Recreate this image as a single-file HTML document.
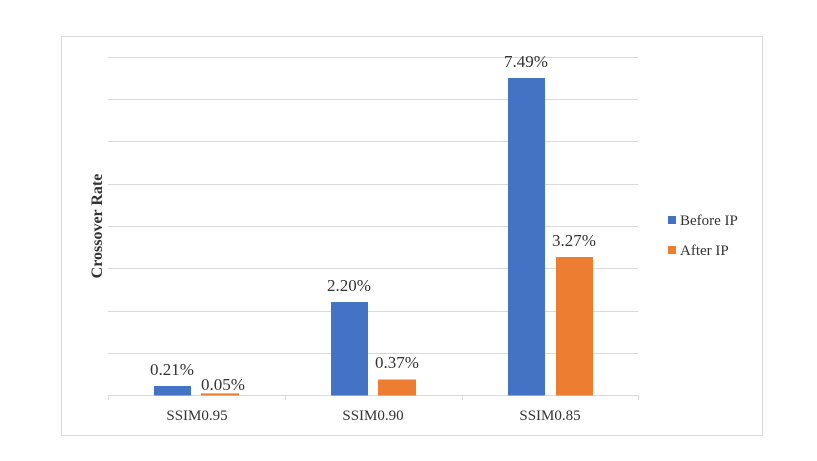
<!DOCTYPE html>
<html><head><style>
body{margin:0;background:#fff;}
svg text{font-family:"Liberation Serif",serif;fill:#333;}
</style></head><body>
<svg width="817" height="456" xmlns="http://www.w3.org/2000/svg">
<rect x="61.5" y="36.5" width="701" height="399" fill="#fff" stroke="#d9d9d9"/>
<g stroke="#d9d9d9" stroke-width="1">
<line x1="108" x2="638" y1="57.5" y2="57.5"/>
<line x1="108" x2="638" y1="99.5" y2="99.5"/>
<line x1="108" x2="638" y1="141.5" y2="141.5"/>
<line x1="108" x2="638" y1="184.5" y2="184.5"/>
<line x1="108" x2="638" y1="226.5" y2="226.5"/>
<line x1="108" x2="638" y1="268.5" y2="268.5"/>
<line x1="108" x2="638" y1="311.5" y2="311.5"/>
<line x1="108" x2="638" y1="353.5" y2="353.5"/>
<line x1="108" x2="638" y1="395.5" y2="395.5"/>
<line x1="108.5" x2="108.5" y1="395" y2="400"/>
<line x1="285.5" x2="285.5" y1="395" y2="400"/>
<line x1="462.5" x2="462.5" y1="395" y2="400"/>
<line x1="638.5" x2="638.5" y1="395" y2="400"/>
</g>
<g fill="#4472c4">
<rect x="154" y="386" width="37" height="9.5"/>
<rect x="331" y="302" width="37" height="93.5"/>
<rect x="508" y="78" width="37" height="317.5"/>
</g>
<g fill="#ed7d31">
<rect x="201" y="393.4" width="38" height="2.1"/>
<rect x="378" y="379.5" width="38" height="16"/>
<rect x="556" y="257" width="37" height="138.5"/>
</g>
<g font-size="17" text-anchor="middle">
<text x="172" y="375">0.21%</text>
<text x="223" y="390">0.05%</text>
<text x="349" y="291">2.20%</text>
<text x="397" y="368">0.37%</text>
<text x="526" y="67">7.49%</text>
<text x="574" y="246">3.27%</text>
</g>
<g font-size="15" text-anchor="middle">
<text x="197" y="420">SSIM0.95</text>
<text x="373" y="420">SSIM0.90</text>
<text x="550" y="420">SSIM0.85</text>
</g>
<text transform="translate(102,226) rotate(-90)" font-size="16" font-weight="bold" text-anchor="middle">Crossover Rate</text>
<rect x="668" y="216" width="8" height="8" fill="#4472c4"/>
<text x="680" y="225" font-size="15">Before IP</text>
<rect x="668" y="246" width="8" height="8" fill="#ed7d31"/>
<text x="680" y="255" font-size="15">After IP</text>
</svg>
</body></html>
